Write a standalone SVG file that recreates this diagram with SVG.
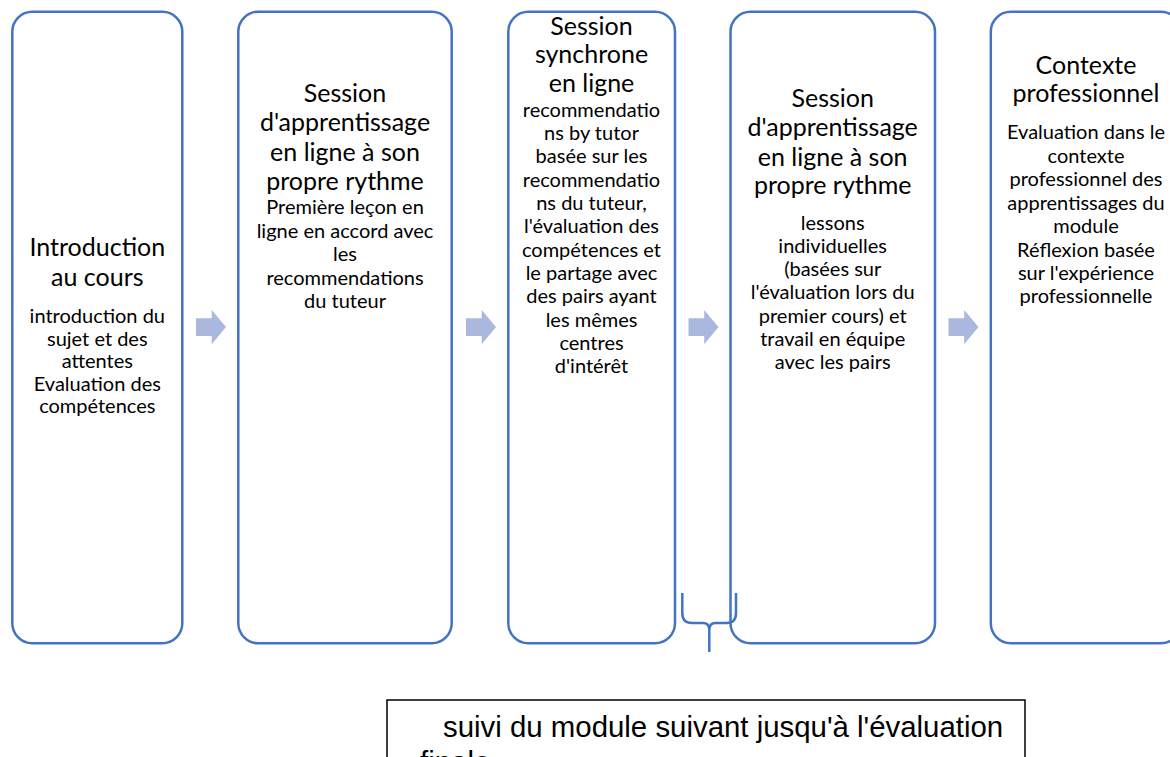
<svg xmlns="http://www.w3.org/2000/svg" width="1170" height="757" viewBox="0 0 1170 757">
<style>
.box{fill:#ffffff;stroke:#4472c4;stroke-width:2.5}
.t{font-family:Lato,"Liberation Sans",sans-serif;font-size:25px;fill:#000;text-anchor:middle}
.b{font-family:Lato,"Liberation Sans",sans-serif;font-size:20px;fill:#000;text-anchor:middle}
.arr{fill:#abb8de}
.brace{fill:none;stroke:#4472c4;stroke-width:2.5}
.note{font-family:"Liberation Sans",Arial,sans-serif;font-size:29.4px;fill:#000}
</style>
<rect width="1170" height="757" fill="#ffffff"/>
<g id="node1">
<rect class="box" x="12.3" y="11.7" width="170" height="631.6" rx="20"/>
<text class="t" x="97.3"><tspan x="97.3" y="256">Introduction</tspan><tspan x="97.3" y="286">au cours</tspan></text>
<text class="b"><tspan x="97.3" y="323">introduction du</tspan><tspan x="97.3" y="345.5">sujet et des</tspan><tspan x="97.3" y="368">attentes</tspan><tspan x="97.3" y="390.5">Evaluation des</tspan><tspan x="97.3" y="413">compétences</tspan></text>
</g>
<g id="node2">
<rect class="box" x="238.3" y="11.7" width="213.4" height="631.6" rx="20"/>
<text class="t"><tspan x="345" y="101.7">Session</tspan><tspan x="345" y="131">d'apprentissage</tspan><tspan x="345" y="160.5">en ligne à son</tspan><tspan x="345" y="189.5">propre rythme</tspan></text>
<text class="b"><tspan x="345" y="214">Première leçon en</tspan><tspan x="345" y="237.5">ligne en accord avec</tspan><tspan x="345" y="261">les</tspan><tspan x="345" y="284.5">recommendations</tspan><tspan x="345" y="308">du tuteur</tspan></text>
</g>
<g id="node3">
<rect class="box" x="508.3" y="11.7" width="166.7" height="631.6" rx="20"/>
<text class="t"><tspan x="591.5" y="35">Session</tspan><tspan x="591.5" y="63.3">synchrone</tspan><tspan x="591.5" y="91.7">en ligne</tspan></text>
<text class="b"><tspan x="591.5" y="116.7">recommendatio</tspan><tspan x="591.5" y="140">ns by tutor</tspan><tspan x="591.5" y="163.3">basée sur les</tspan><tspan x="591.5" y="186.7">recommendatio</tspan><tspan x="591.5" y="210">ns du tuteur,</tspan><tspan x="591.5" y="233.3">l'évaluation des</tspan><tspan x="591.5" y="256.7">compétences et</tspan><tspan x="591.5" y="280">le partage avec</tspan><tspan x="591.5" y="303.3">des pairs ayant</tspan><tspan x="591.5" y="326.7">les mêmes</tspan><tspan x="591.5" y="350">centres</tspan><tspan x="591.5" y="373.3">d'intérêt</tspan></text>
</g>
<g id="node4">
<rect class="box" x="730.5" y="11.7" width="204.5" height="631.6" rx="20"/>
<text class="t"><tspan x="832.7" y="106.7">Session</tspan><tspan x="832.7" y="136">d'apprentissage</tspan><tspan x="832.7" y="165.5">en ligne à son</tspan><tspan x="832.7" y="194.3">propre rythme</tspan></text>
<text class="b"><tspan x="832.7" y="230">lessons</tspan><tspan x="832.7" y="253">individuelles</tspan><tspan x="832.7" y="276">(basées sur</tspan><tspan x="832.7" y="299.3">l'évaluation lors du</tspan><tspan x="832.7" y="322.5">premier cours) et</tspan><tspan x="832.7" y="345.7">travail en équipe</tspan><tspan x="832.7" y="369">avec les pairs</tspan></text>
</g>
<g id="node5">
<rect class="box" x="990.8" y="11.7" width="190" height="631.6" rx="20"/>
<text class="t"><tspan x="1086" y="74">Contexte</tspan><tspan x="1086" y="101.7">professionnel</tspan></text>
<text class="b"><tspan x="1086" y="139.3">Evaluation dans le</tspan><tspan x="1086" y="162.7">contexte</tspan><tspan x="1086" y="186">professionnel des</tspan><tspan x="1086" y="209.5">apprentissages du</tspan><tspan x="1086" y="233">module</tspan><tspan x="1086" y="256.5">Réflexion basée</tspan><tspan x="1086" y="279.8">sur l'expérience</tspan><tspan x="1086" y="303.3">professionnelle</tspan></text>
</g>
<g id="connectors">
<path class="arr" d="M196,318.3 H211.7 V310 L226,327 L211.7,344.3 V336 H196 Z"/>
<path class="arr" d="M466,318.3 H481.7 V310 L496,327 L481.7,344.3 V336 H466 Z"/>
<path class="arr" d="M688.5,318.3 H704.2 V310 L718.5,327 L704.2,344.3 V336 H688.5 Z"/>
<path class="arr" d="M948.5,318.3 H964.2 V310 L978.5,327 L964.2,344.3 V336 H948.5 Z"/>
</g>
<g id="brace">
<path class="brace" d="M682.3,593 V613 Q682.3,623 692,623 H703 Q709.3,623 709.3,630 V652 M709.3,630 Q709.3,623 715.6,623 H726.5 Q736,623 736,613 V593"/>
</g>
<g id="note">
<rect x="387" y="700" width="638" height="80" fill="#ffffff" stroke="#000000" stroke-width="1.5"/>
<text class="note" x="443" y="737">suivi du module suivant jusqu'à l'évaluation</text>
<text class="note" x="420" y="772">finale</text>
</g>
</svg>
